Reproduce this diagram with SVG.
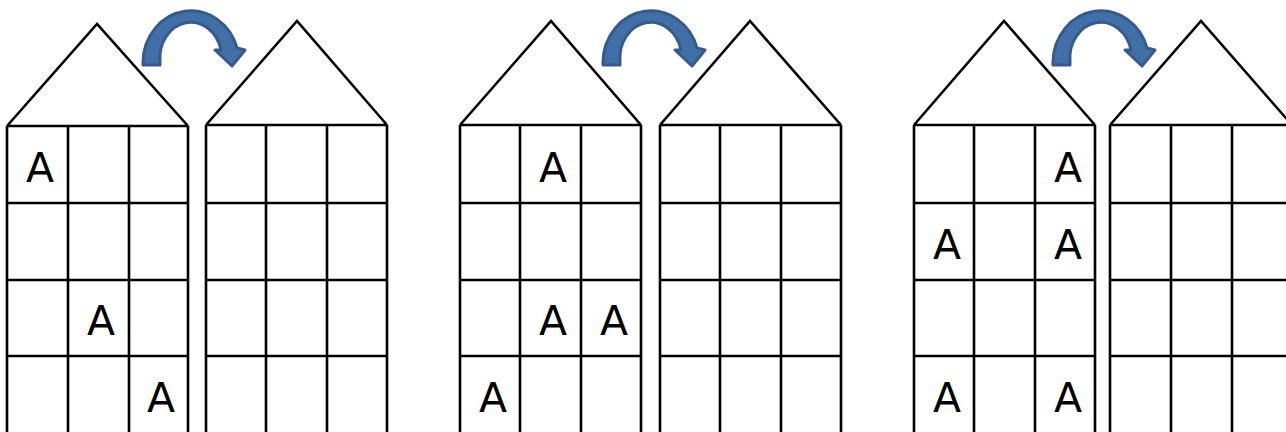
<svg xmlns="http://www.w3.org/2000/svg" width="1286" height="432" viewBox="0 0 1286 432">
<defs>
<style>
.h{fill:none;stroke:#000;stroke-width:2.6;stroke-linejoin:miter}
.t{font-family:"DejaVu Sans",Verdana,sans-serif;font-size:41px;fill:#000;text-anchor:middle}
.arr{fill:#4170A9;stroke:#365A8C;stroke-width:3;stroke-linejoin:round}
</style>
<path id="arrowShape" d="M0,65 L0,62 A48,52 0 0 1 94,48 L102,50 L89,66 L72,50 L78,50 A31,36 0 0 0 17,62 L17,65 Z"/>
</defs>
<rect width="1286" height="432" fill="#fff"/>

<g id="house1">
<path class="h" d="M7,126 L97,24 L188,126 M7,126 H188 M7,203 H188 M7,280 H188 M7,356 H188 M7,126 V432 M68,126 V432 M129,126 V432 M188,126 V432"/>
<text class="t" x="40" y="182">A</text>
<text class="t" x="101" y="335">A</text>
<text class="t" x="161" y="412">A</text>
</g>
<g id="house2">
<path class="h" d="M206,125 L297,21 L387,125 M206,125 H387 M206,203 H387 M206,280 H387 M206,356 H387 M206,125 V432 M266,125 V432 M327,125 V432 M387,125 V432"/>
</g>
<g id="house3">
<path class="h" d="M460,125 L551,21 L641,125 M460,125 H641 M460,203 H641 M460,280 H641 M460,356 H641 M460,125 V432 M520,125 V432 M581,125 V432 M641,125 V432"/>
<text class="t" x="553" y="182">A</text>
<text class="t" x="553" y="335">A</text>
<text class="t" x="614" y="335">A</text>
<text class="t" x="493" y="412">A</text>
</g>
<g id="house4">
<path class="h" d="M660,125 L750,21 L841,125 M660,125 H841 M660,203 H841 M660,280 H841 M660,356 H841 M660,125 V432 M720,125 V432 M781,125 V432 M841,125 V432"/>
</g>
<g id="house5">
<path class="h" d="M914,125 L1004,21 L1095,125 M914,125 H1095 M914,203 H1095 M914,280 H1095 M914,356 H1095 M914,125 V432 M974,125 V432 M1035,125 V432 M1095,125 V432"/>
<text class="t" x="1068" y="182">A</text>
<text class="t" x="947" y="259">A</text>
<text class="t" x="1068" y="259">A</text>
<text class="t" x="947" y="412">A</text>
<text class="t" x="1068" y="412">A</text>
</g>
<g id="house6">
<path class="h" d="M1110,125 L1201,21 L1292,125 M1110,125 H1292 M1110,203 H1292 M1110,280 H1292 M1110,356 H1292 M1110,125 V432 M1171,125 V432 M1232,125 V432"/>
</g>

<g id="connectors">
<use href="#arrowShape" class="arr" transform="translate(143,0)"/>
<use href="#arrowShape" class="arr" transform="translate(603,0)"/>
<use href="#arrowShape" class="arr" transform="translate(1053,0)"/>
</g>
</svg>
